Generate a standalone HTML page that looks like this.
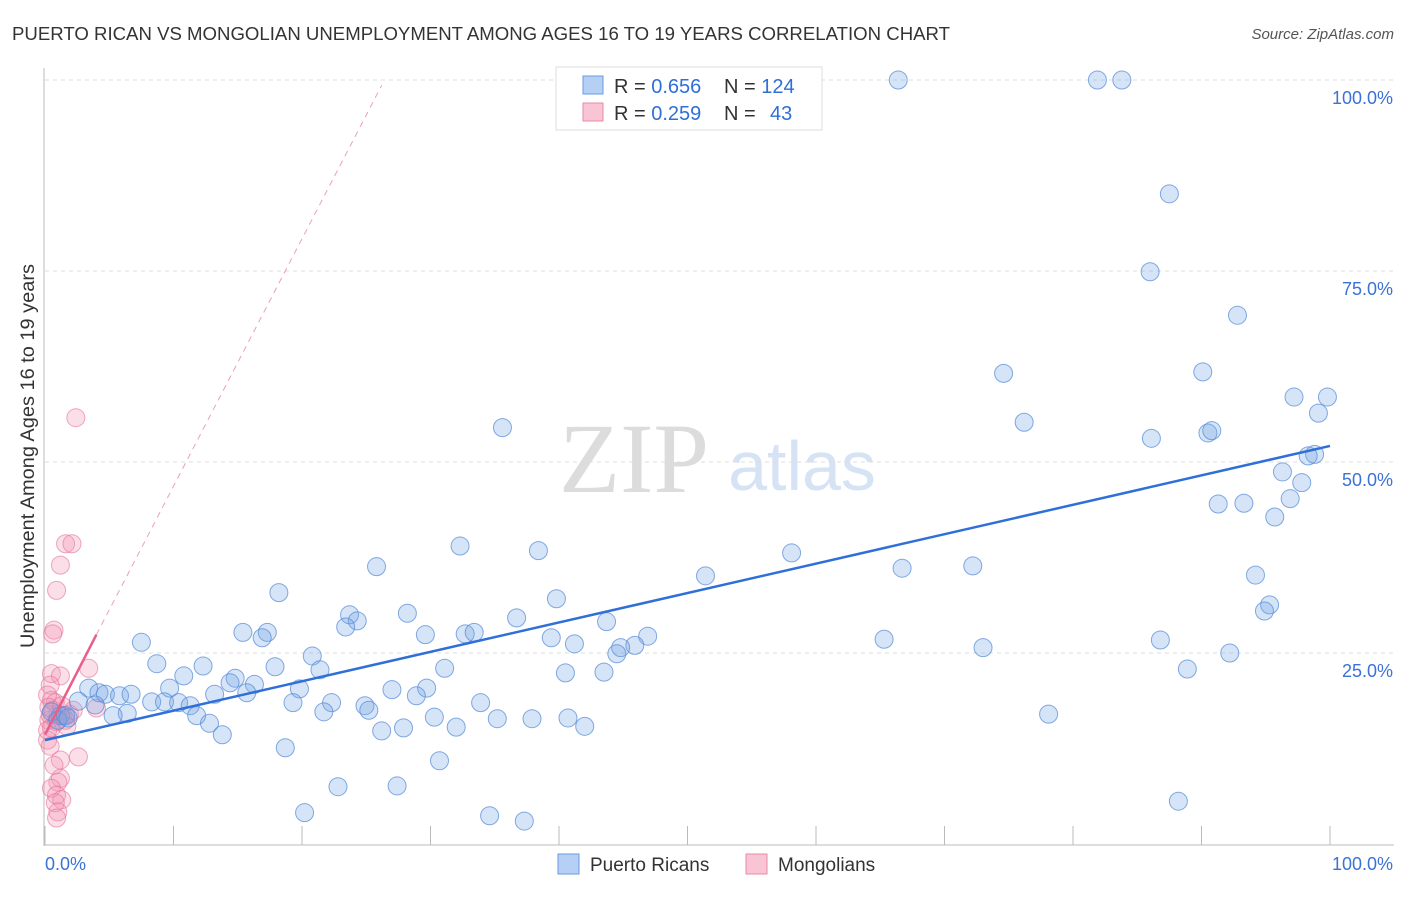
<!DOCTYPE html>
<html><head><meta charset="utf-8">
<style>
body{margin:0;background:#fff;font-family:"Liberation Sans",sans-serif;}
svg text{font-family:"Liberation Sans",sans-serif;}
</style></head>
<body>
<svg id="chart" width="1406" height="892" viewBox="0 0 1406 892">
<text x="12" y="40" font-size="18" fill="#333" textLength="938" lengthAdjust="spacingAndGlyphs">PUERTO RICAN VS MONGOLIAN UNEMPLOYMENT AMONG AGES 16 TO 19 YEARS CORRELATION CHART</text>
<text x="1394" y="39" font-size="15" fill="#555" font-style="italic" text-anchor="end">Source: ZipAtlas.com</text>
<text x="634" y="492" font-size="100" fill="#dcdcdc" font-family="Liberation Serif" text-anchor="middle" style="font-family:'Liberation Serif',serif">ZIP</text>
<text x="802" y="490" font-size="70" fill="#d5e3f5" text-anchor="middle">atlas</text>
<text transform="translate(34,456) rotate(-90)" font-size="19" fill="#333" text-anchor="middle" textLength="384" lengthAdjust="spacingAndGlyphs">Unemployment Among Ages 16 to 19 years</text>
<g id="grid"></g><g id="axes"></g><g id="pts"></g><g id="lines"></g>
<g>
<rect x="556" y="67" width="266" height="63" fill="#fff" stroke="#ddd"/>
<rect x="583" y="76" width="20" height="18" fill="#b6d0f5" stroke="#6a9ae0"/>
<rect x="583" y="103" width="20" height="18" fill="#f9c4d4" stroke="#e88aa8"/>
<text x="614" y="93" font-size="20" fill="#333">R = <tspan fill="#2f6fd8">0.656</tspan></text>
<text x="724" y="93" font-size="20" fill="#333">N = <tspan fill="#2f6fd8">124</tspan></text>
<text x="614" y="120" font-size="20" fill="#333">R = <tspan fill="#2f6fd8">0.259</tspan></text>
<text x="724" y="120" font-size="20" fill="#333">N = <tspan x="770" fill="#2f6fd8">43</tspan></text>
</g>
<g>
<rect x="558" y="854" width="21" height="20" fill="#b6d0f5" stroke="#6a9ae0"/>
<text x="590" y="871" font-size="19" fill="#333">Puerto Ricans</text>
<rect x="746" y="854" width="21" height="20" fill="#f9c4d4" stroke="#e88aa8"/>
<text x="778" y="871" font-size="19" fill="#333">Mongolians</text>
</g>
</svg>
<script>
const blueX=[66.4,81.9,83.8,87.5,86.0,92.8,74.6,90.1,99.8,97.2,99.1,76.2,86.1,90.5,90.8,35.6,98.8,98.3,96.3,97.8,96.9,91.3,93.3,95.7,32.3,38.4,25.8,58.1,66.7,72.2,51.4,94.2,95.3,94.9,18.2,39.8,28.2,23.7,24.3,36.7,23.4,15.4,17.3,16.9,29.6,32.7,33.4,43.7,39.4,41.2,46.9,45.9,44.8,44.5,65.3,86.8,92.2,73.0,7.5,20.8,8.7,17.9,21.4,12.3,31.1,40.5,43.5,88.9,10.8,14.8,14.4,16.3,9.7,27.0,29.7,3.4,4.2,4.7,5.8,6.7,13.2,15.7,19.8,28.9,2.6,3.9,8.3,9.3,10.4,11.3,19.3,22.3,33.9,24.9,25.2,11.8,12.8,6.4,5.3,21.7,30.3,35.2,37.9,40.7,42.0,32.0,26.2,27.9,13.8,18.7,78.1,30.7,22.8,27.4,20.2,34.6,37.3,88.2,1.2,0.5,1.0,1.6,1.8];
const blueY=[100,100,100,85.1,74.9,69.2,61.6,61.8,58.5,58.5,56.4,55.2,53.1,53.8,54.1,54.5,51.0,50.8,48.7,47.3,45.2,44.5,44.6,42.8,39.0,38.4,36.3,38.1,36.1,36.4,35.1,35.2,31.3,30.5,32.9,32.1,30.2,30.0,29.2,29.6,28.4,27.7,27.7,27.0,27.4,27.5,27.7,29.1,27.0,26.2,27.2,26.0,25.7,24.9,26.8,26.7,25.0,25.7,26.4,24.6,23.6,23.2,22.8,23.3,23.0,22.4,22.5,22.9,22.0,21.7,21.1,20.9,20.4,20.2,20.4,20.4,19.8,19.6,19.4,19.6,19.6,19.8,20.3,19.4,18.7,18.2,18.6,18.6,18.5,18.1,18.5,18.5,18.5,18.1,17.5,16.8,15.8,17.1,16.8,17.3,16.6,16.4,16.4,16.5,15.4,15.3,14.8,15.2,14.3,12.6,17.0,10.9,7.5,7.6,4.1,3.7,3.0,5.6,16.8,17.3,16.2,16.8,16.5];
const pinkX=[2.4,1.6,2.1,1.2,0.9,0.7,0.6,3.4,0.5,1.2,0.4,0.5,0.2,0.8,1.0,0.3,0.5,0.2,4.0,1.9,1.7,2.6,1.2,0.7,1.2,1.0,0.5,0.9,1.3,0.8,1.0,0.9,0.3,0.4,0.6,0.9,1.4,1.6,0.2,0.4,1.3,2.2];
const pinkY=[55.8,39.3,39.3,36.5,33.2,28.0,27.5,23.0,22.3,22.0,20.8,18.8,19.5,18.5,17.0,16.2,15.2,13.6,17.8,17.0,15.4,11.4,11.0,10.3,8.6,8.1,7.3,6.4,5.8,5.4,4.2,3.4,17.9,16.9,17.5,16.0,16.8,16.2,14.9,12.8,18.1,17.5];
const blueTrend=[[0,13.6],[100,52.1]];
const pinkTrend=[[0,14.3],[4,27.4]];
const pinkDash=[[4,27.4],[26.2,99.3]];
const yTicks=[25,50,75,100];
const yTickLabels=["25.0%","50.0%","75.0%","100.0%"];
const xTicks=[0,10,20,30,40,50,60,70,80,90,100];

const X=v=>45+v*12.85, Y=v=>844-v*7.64;
const NS="http://www.w3.org/2000/svg";
function mk(tag,parent,at){const e=document.createElementNS(NS,tag);for(const k in at)e.setAttribute(k,at[k]);document.getElementById(parent).appendChild(e);return e;}
yTicks.forEach((t,i)=>{
  const l=mk('line','grid',{x1:45,x2:1394,y1:Y(t),y2:Y(t),stroke:'#ddd','stroke-dasharray':'4 4'});
  
  
  const tx=mk('text','grid',{x:1393,y:Y(t)+24,'font-size':18,fill:'#3a72d6','text-anchor':'end'});
  tx.textContent=yTickLabels[i];
  
  
});
let a=mk('line','axes',{x1:44,x2:44,y1:68,y2:846,stroke:'#bbb'});


a=mk('line','axes',{x1:44,x2:1394,y1:845,y2:845,stroke:'#bbb'});


xTicks.forEach(t=>{
  const l=mk('line','axes',{x1:X(t),x2:X(t),y1:826,y2:845,stroke:'#bbb'});
  
  
});
let t1=mk('text','axes',{x:45,y:870,'font-size':18,fill:'#3a72d6'});t1.textContent='0.0%';


let t2=mk('text','axes',{x:1393,y:870,'font-size':18,fill:'#3a72d6','text-anchor':'end'});t2.textContent='100.0%';


pinkX.forEach((v,i)=>{
  const c=mk('circle','pts',{cx:X(v),cy:Y(pinkY[i]),r:9,fill:'rgba(243,150,180,0.3)',stroke:'rgba(230,110,150,0.6)','stroke-width':1});
  
  
});
blueX.forEach((v,i)=>{
  const c=mk('circle','pts',{cx:X(v),cy:Y(blueY[i]),r:9,fill:'rgba(120,165,230,0.3)',stroke:'rgba(80,135,215,0.7)','stroke-width':1});
  
  
});
let ln=mk('line','lines',{x1:X(blueTrend[0][0]),y1:Y(blueTrend[0][1]),x2:X(blueTrend[1][0]),y2:Y(blueTrend[1][1]),stroke:'#2f6fd8','stroke-width':2.5});


ln=mk('line','lines',{x1:X(pinkTrend[0][0]),y1:Y(pinkTrend[0][1]),x2:X(pinkTrend[1][0]),y2:Y(pinkTrend[1][1]),stroke:'#e8608a','stroke-width':2.5});


ln=mk('line','lines',{x1:X(pinkDash[0][0]),y1:Y(pinkDash[0][1]),x2:X(pinkDash[1][0]),y2:Y(pinkDash[1][1]),stroke:'#eba0b8','stroke-width':1,'stroke-dasharray':'6 5'});


</script>
</body></html>
